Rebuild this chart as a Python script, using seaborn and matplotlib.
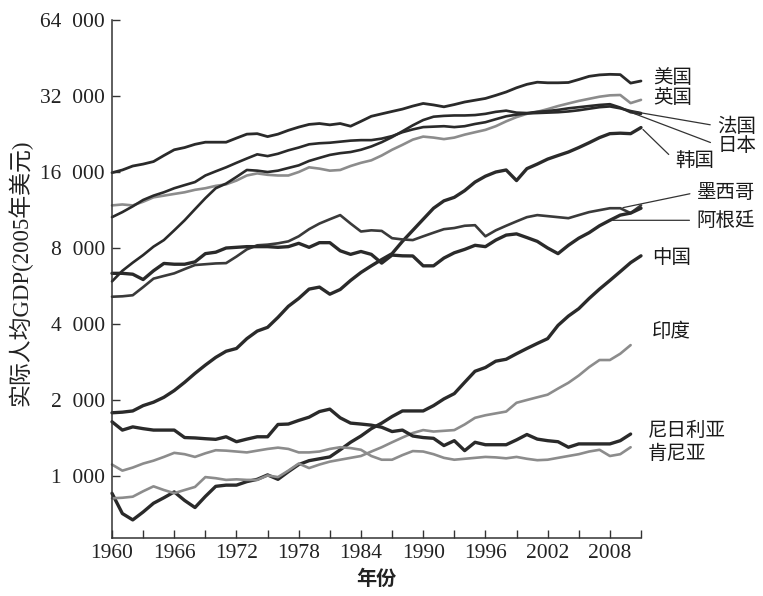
import numpy as np
import pandas as pd
import seaborn as sns
import matplotlib
matplotlib.use("Agg")
import matplotlib.pyplot as plt
from matplotlib.ticker import FixedLocator, NullFormatter

nan = np.nan

years = list(range(1960, 2012))

usa = [15900, 16300, 16900, 17200, 17600, 18600, 19600, 20000, 20600, 21000,
       21000, 21000, 21800, 22600, 22700, 22100, 22600, 23400, 24100, 24700,
       24900, 24600, 24900, 24300, 25400, 26600, 27200, 27800, 28400, 29200,
       29900, 29500, 29000, 29600, 30300, 30800, 31300, 32200, 33200, 34500,
       35600, 36300, 36100, 36100, 36200, 37200, 38300, 38800, 39000, 38900,
       36000, 36700]
uk = [11800, 11900, 11800, 12200, 12700, 12900, 13100, 13300, 13600, 13800,
      14100, 14300, 14800, 15500, 15800, 15600, 15500, 15500, 16000, 16700,
      16500, 16200, 16300, 16900, 17400, 17800, 18600, 19600, 20500, 21500,
      22100, 21900, 21600, 21900, 22500, 23000, 23500, 24300, 25400, 26400,
      27200, 27700, 28400, 29200, 29900, 30600, 31200, 31800, 32200, 32300,
      30000, 30900]
france = [10600, 11100, 11700, 12400, 12900, 13300, 13800, 14200, 14600, 15500,
          16100, 16700, 17400, 18100, 18800, 18500, 18900, 19500, 20000, 20600,
          20800, 20900, 21100, 21300, 21400, 21400, 21700, 22200, 23000, 23600,
          24100, 24200, 24300, 24100, 24300, 24800, 25200, 25900, 26600, 27000,
          27300, 27400, 27500, 27600, 27800, 28100, 28500, 28900, 29100, 28600,
          27900, 27400]
japan = [5900, 6500, 7000, 7500, 8100, 8600, 9400, 10300, 11400, 12600,
         13800, 14400, 15300, 16300, 16200, 16000, 16200, 16600, 17000, 17700,
         18200, 18700, 19000, 19200, 19600, 20200, 21000, 22000, 23200, 24500,
         25700, 26500, 26700, 26800, 26800, 26900, 27200, 27700, 28000, 27500,
         27400, 27700, 27900, 28200, 28600, 28900, 29200, 29500, 29700, 28800,
         27600, 27200]
korea = [1780, 1790, 1810, 1900, 1960, 2050, 2180, 2350, 2550, 2750,
         2950, 3120, 3200, 3500, 3750, 3880, 4250, 4700, 5050, 5500,
         5600, 5250, 5480, 5950, 6400, 6800, 7200, 7600, 8500, 9400,
         10400, 11500, 12300, 12700, 13500, 14600, 15400, 16000, 16300, 14800,
         16500, 17200, 18000, 18600, 19200, 20000, 20900, 21900, 22700, 22800,
         22700, 24000]
mexico = [5130, 5150, 5200, 5600, 6050, 6200, 6350, 6600, 6850, 6900,
          6950, 6970, 7400, 7900, 8200, 8250, 8350, 8500, 8900, 9500,
          10000, 10400, 10800, 10000, 9300, 9400, 9350, 8750, 8650, 8600,
          8900, 9200, 9500, 9600, 9800, 9850, 8900, 9400, 9800, 10200,
          10600, 10800, 10700, 10600, 10500, 10800, 11100, 11300, 11500, 11500,
          11000, 11800]
argentina = [6350, 6350, 6300, 6000, 6500, 6950, 6900, 6900, 7050, 7600,
             7700, 8000, 8050, 8100, 8100, 8100, 8050, 8100, 8350, 8050,
             8400, 8400, 7800, 7550, 7750, 7550, 6970, 7500, 7450, 7440,
             6800, 6800, 7300, 7660, 7900, 8200, 8100, 8600, 9000, 9100,
             8800, 8500, 8000, 7600, 8200, 8750, 9200, 9800, 10300, 10800,
             11000, 11500]
china = [854, 710, 670, 720, 780, 820, 865, 800, 750, 830,
         910, 920, 920, 950, 970, 1010, 970, 1040, 1110, 1150,
         1170, 1190, 1270, 1360, 1440, 1540, 1620, 1720, 1810, 1810,
         1810, 1900, 2020, 2120, 2350, 2600, 2690, 2850, 2900, 3050,
         3200, 3350, 3500, 3950, 4300, 4600, 5050, 5500, 5950, 6450,
         7000, 7450]
india = [816, 820, 828, 870, 910, 880, 855, 880, 905, 990,
         980, 965, 970, 965, 965, 1005, 990, 1050, 1120, 1075,
         1110, 1140, 1160, 1180, 1200, 1250, 1300, 1360, 1420, 1480,
         1520, 1500, 1510, 1520, 1600, 1700, 1740, 1770, 1800, 1950,
         2000, 2050, 2100, 2220, 2340, 2500, 2700, 2880, 2880, 3050,
         3300, nan]
kenya = [1110, 1050, 1080, 1120, 1150, 1190, 1235, 1220, 1190, 1230,
         1265, 1260, 1250, 1240, 1260, 1280, 1295, 1280, 1240, 1240,
         1250, 1280, 1300, 1290, 1270, 1200, 1160, 1160, 1210, 1255,
         1250, 1220, 1180, 1160, 1170, 1180, 1190, 1185, 1175, 1190,
         1170, 1155, 1160, 1180, 1200, 1220, 1250, 1270, 1200, 1220,
         1300, nan]
nigeria = [1640, 1520, 1565, 1540, 1520, 1520, 1520, 1420, 1415, 1405,
           1397, 1430, 1367, 1400, 1430, 1430, 1600, 1606, 1660, 1710,
           1800, 1840, 1700, 1620, 1606, 1590, 1560, 1500, 1520, 1440,
           1420, 1410, 1320, 1380, 1260, 1360, 1330, 1330, 1330, 1390,
           1460, 1400, 1380, 1367, 1300, 1340, 1340, 1340, 1340, 1380,
           1466, nan]

ytick_values = [1000, 2000, 4000, 8000, 16000, 32000, 64000]
ytick_labels = ["1  000", "2  000", "4  000", "8  000", "16  000", "32  000", "64  000"]
xtick_major = list(range(1960, 2009, 6))
xtick_minor = list(range(1963, 2012, 6))

DARK = "#2a2a2a"
GRAY = "#8c8c8c"

# país, série, cor, espessura
series = [
    ("美国", usa, DARK, 2.0),
    ("英国", uk, GRAY, 1.9),
    ("法国", france, DARK, 1.9),
    ("日本", japan, DARK, 1.9),
    ("韩国", korea, DARK, 2.4),
    ("墨西哥", mexico, "#3a3a3a", 1.9),
    ("阿根廷", argentina, DARK, 2.4),
    ("中国", china, DARK, 2.4),
    ("印度", india, GRAY, 1.9),
    ("尼日利亚", nigeria, DARK, 2.4),
    ("肯尼亚", kenya, GRAY, 1.9),
]

sns.set_style("ticks")
plt.rcParams["font.family"] = ["Liberation Serif", "Noto Sans CJK SC"]

fig = plt.figure(figsize=(7.63, 5.96), dpi=100)
ax = fig.add_axes([0.1468, 0.0973, 0.6933, 0.8691])

for nome, valores, cor, lw in series:
    df = pd.DataFrame({"ano": years, "pib": valores}).dropna()
    sns.lineplot(data=df, x="ano", y="pib", color=cor, linewidth=lw,
                 ax=ax, legend=False, clip_on=False)

ax.set_yscale("log", base=2)
ax.set_ylim(568, 64000)
ax.set_xlim(1960, 2011)

ax.yaxis.set_major_locator(FixedLocator(ytick_values))
ax.yaxis.set_minor_locator(FixedLocator([]))
ax.set_yticklabels(ytick_labels)
ax.xaxis.set_major_locator(FixedLocator(xtick_major))
ax.xaxis.set_minor_locator(FixedLocator(xtick_minor))
ax.xaxis.set_minor_formatter(NullFormatter())
ax.set_xticklabels([str(a) for a in xtick_major])

ax.tick_params(axis="both", which="both", direction="in", length=6,
               width=1.0, color="#333333", labelsize=15.5, labelcolor="#222222")
ax.tick_params(axis="y", pad=5)
ax.tick_params(axis="x", pad=4)

for lado in ["top", "right"]:
    ax.spines[lado].set_visible(False)
for lado in ["left", "bottom"]:
    ax.spines[lado].set_linewidth(1.1)
    ax.spines[lado].set_color("#333333")

ax.set_xlabel("年份", fontsize=14.5, fontweight="bold",
              family=["Noto Sans CJK SC"], color="#222222", labelpad=4)
ax.set_ylabel("")
fig.text(20 / 763, 1 - 273 / 596, "实际人均GDP(2005年美元)", rotation=90,
         ha="center", va="center", fontsize=16.5, color="#222222",
         family=["Liberation Serif", "Noto Sans CJK SC"])

# rótulos dos países: (ano de ancoragem, deslocamento em pixels, com linha guia)
rotulos = {
    "美国": (2011, (12, 3), False),
    "英国": (2011, (12, 2), False),
    "法国": (2010, (87, -15), True),
    "日本": (2010, (87, -33), True),
    "韩国": (2011, (34, -33), True),
    "墨西哥": (2009, (77, 16), True),
    "阿根廷": (2008, (87, 0), True),
    "中国": (2011, (11, -2), False),
    "印度": (2010, (21, 14), False),
    "尼日利亚": (2010, (17, 4), False),
    "肯尼亚": (2010, (17, -6), False),
}

for nome, valores, cor, lw in series:
    ano, desloc, guia = rotulos[nome]
    valor = valores[years.index(ano)]
    props = None
    if guia:
        props = dict(arrowstyle="-", color="#333333", lw=0.9,
                     shrinkA=3, shrinkB=2, relpos=(0, 0.5))
    ax.annotate(nome, xy=(ano, valor), xytext=desloc,
                textcoords="offset pixels", ha="left", va="center",
                fontsize=14, color="#1a1a1a", family=["Noto Sans CJK SC"],
                arrowprops=props, annotation_clip=False)

fig.savefig("out.png", dpi=100, facecolor="white")
